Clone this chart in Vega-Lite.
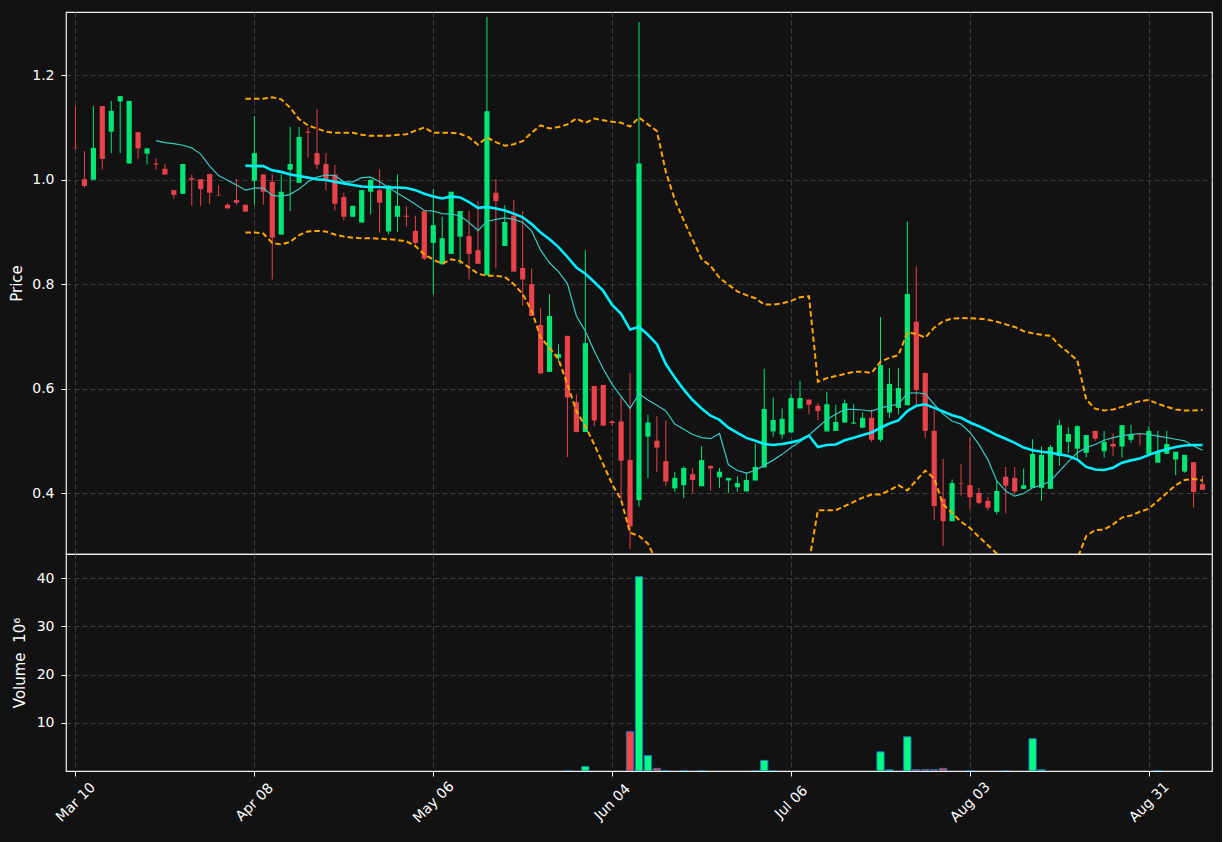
{
  "$schema": "https://vega.github.io/schema/vega-lite/v6.json",
  "background": "#121212",
  "padding": {"left": 9, "top": 11, "right": 9, "bottom": 17},
  "spacing": 0,
  "bounds": "flush",
  "config": {
    "view": {"stroke": "#f0f0f0", "strokeWidth": 1.2, "fill": "#121212"},
    "axis": {
      "labelColor": "#ffffff", "labelFont": "DejaVu Sans", "labelFontSize": 14,
      "titleColor": "#ffffff", "titleFont": "DejaVu Sans", "titleFontSize": 15, "titleFontWeight": "normal",
      "tickColor": "#ffffff", "tickSize": 5, "domain": false,
      "gridColor": "#3e3e3e", "gridDash": [5, 3], "gridWidth": 1
    }
  },
  "datasets": {
    "d": [
      {"i":0,"o":1.061,"h":1.141,"l":1.060,"c":1.060},
      {"i":1,"o":1.001,"h":1.055,"l":0.985,"c":0.988},
      {"i":2,"o":1.000,"h":1.141,"l":1.000,"c":1.061},
      {"i":3,"o":1.141,"h":1.141,"l":1.020,"c":1.040},
      {"i":4,"o":1.092,"h":1.151,"l":1.051,"c":1.132},
      {"i":5,"o":1.150,"h":1.160,"l":1.051,"c":1.160},
      {"i":6,"o":1.031,"h":1.151,"l":1.031,"c":1.151},
      {"i":7,"o":1.091,"h":1.091,"l":1.040,"c":1.060},
      {"i":8,"o":1.050,"h":1.060,"l":1.029,"c":1.060},
      {"i":9,"o":1.031,"h":1.041,"l":1.020,"c":1.029,"m1":1.075},
      {"i":10,"o":1.021,"h":1.030,"l":1.010,"c":1.010,"m1":1.071},
      {"i":11,"o":0.980,"h":0.980,"l":0.964,"c":0.971,"m1":1.069},
      {"i":12,"o":0.973,"h":1.030,"l":0.973,"c":1.030,"m1":1.066},
      {"i":13,"o":1.003,"h":1.010,"l":0.950,"c":1.000,"m1":1.061},
      {"i":14,"o":1.001,"h":1.001,"l":0.950,"c":0.982,"m1":1.049},
      {"i":15,"o":1.011,"h":1.011,"l":0.954,"c":0.975,"m1":1.026},
      {"i":16,"o":0.971,"h":0.989,"l":0.969,"c":0.970,"m1":1.008},
      {"i":17,"o":0.952,"h":0.955,"l":0.945,"c":0.945,"m1":0.999},
      {"i":18,"o":0.961,"h":1.001,"l":0.952,"c":0.956,"m1":0.990},
      {"i":19,"o":0.952,"h":0.952,"l":0.939,"c":0.939,"m1":0.980,"m2":1.027,"bu":1.155,"bl":0.899},
      {"i":20,"o":0.998,"h":1.122,"l":0.952,"c":1.051,"m1":0.984,"m2":1.026,"bu":1.155,"bl":0.899},
      {"i":21,"o":1.010,"h":1.010,"l":0.952,"c":0.977,"m1":0.984,"m2":1.026,"bu":1.155,"bl":0.897},
      {"i":22,"o":0.996,"h":1.010,"l":0.809,"c":0.889,"m1":0.970,"m2":1.018,"bu":1.158,"bl":0.879},
      {"i":23,"o":0.895,"h":1.010,"l":0.895,"c":0.977,"m1":0.968,"m2":1.015,"bu":1.154,"bl":0.876},
      {"i":24,"o":1.019,"h":1.101,"l":0.940,"c":1.030,"m1":0.972,"m2":1.010,"bu":1.138,"bl":0.881},
      {"i":25,"o":0.994,"h":1.101,"l":0.994,"c":1.082,"m1":0.982,"m2":1.007,"bu":1.116,"bl":0.894},
      {"i":26,"o":1.092,"h":1.101,"l":1.042,"c":1.090,"m1":0.996,"m2":1.004,"bu":1.104,"bl":0.901},
      {"i":27,"o":1.051,"h":1.135,"l":1.020,"c":1.029,"m1":1.005,"m2":1.001,"bu":1.098,"bl":0.902},
      {"i":28,"o":1.030,"h":1.051,"l":0.980,"c":0.999,"m1":1.009,"m2":0.9995,"bu":1.092,"bl":0.901},
      {"i":29,"o":1.010,"h":1.028,"l":0.941,"c":0.954,"m1":1.008,"m2":0.996,"bu":1.090,"bl":0.895},
      {"i":30,"o":0.967,"h":0.975,"l":0.922,"c":0.929,"m1":0.996,"m2":0.993,"bu":1.090,"bl":0.891},
      {"i":31,"o":0.929,"h":0.950,"l":0.929,"c":0.950,"m1":0.996,"m2":0.990,"bu":1.090,"bl":0.889},
      {"i":32,"o":0.918,"h":0.980,"l":0.918,"c":0.980,"m1":1.004,"m2":0.987,"bu":1.086,"bl":0.888},
      {"i":33,"o":0.977,"h":1.000,"l":0.934,"c":1.000,"m1":1.005,"m2":0.986,"bu":1.084,"bl":0.888},
      {"i":34,"o":0.980,"h":1.020,"l":0.899,"c":0.956,"m1":0.996,"m2":0.986,"bu":1.084,"bl":0.887},
      {"i":35,"o":0.901,"h":0.989,"l":0.895,"c":0.989,"m1":0.985,"m2":0.985,"bu":1.084,"bl":0.886},
      {"i":36,"o":0.929,"h":1.010,"l":0.900,"c":0.950,"m1":0.974,"m2":0.985,"bu":1.086,"bl":0.8845},
      {"i":37,"o":0.931,"h":0.949,"l":0.910,"c":0.929,"m1":0.964,"m2":0.984,"bu":1.087,"bl":0.882},
      {"i":38,"o":0.902,"h":0.931,"l":0.876,"c":0.879,"m1":0.953,"m2":0.980,"bu":1.094,"bl":0.873},
      {"i":39,"o":0.940,"h":0.940,"l":0.846,"c":0.849,"m1":0.941,"m2":0.973,"bu":1.100,"bl":0.857},
      {"i":40,"o":0.879,"h":0.982,"l":0.780,"c":0.913,"m1":0.940,"m2":0.968,"bu":1.090,"bl":0.847},
      {"i":41,"o":0.838,"h":0.929,"l":0.838,"c":0.888,"m1":0.935,"m2":0.964,"bu":1.090,"bl":0.839},
      {"i":42,"o":0.858,"h":0.977,"l":0.858,"c":0.977,"m1":0.934,"m2":0.968,"bu":1.090,"bl":0.8475},
      {"i":43,"o":0.891,"h":0.940,"l":0.838,"c":0.940,"m1":0.931,"m2":0.966,"bu":1.088,"bl":0.844},
      {"i":44,"o":0.892,"h":0.940,"l":0.809,"c":0.858,"m1":0.918,"m2":0.957,"bu":1.081,"bl":0.832},
      {"i":45,"o":0.865,"h":0.959,"l":0.839,"c":0.839,"m1":0.903,"m2":0.946,"bu":1.067,"bl":0.820},
      {"i":46,"o":0.817,"h":1.312,"l":0.817,"c":1.131,"m1":0.920,"m2":0.948,"bu":1.081,"bl":0.816},
      {"i":47,"o":0.975,"h":1.001,"l":0.830,"c":0.959,"m1":0.924,"m2":0.945,"bu":1.072,"bl":0.816},
      {"i":48,"o":0.873,"h":0.951,"l":0.873,"c":0.919,"m1":0.927,"m2":0.941,"bu":1.065,"bl":0.814},
      {"i":49,"o":0.931,"h":0.961,"l":0.824,"c":0.824,"m1":0.924,"m2":0.935,"bu":1.068,"bl":0.800},
      {"i":50,"o":0.831,"h":0.940,"l":0.759,"c":0.809,"m1":0.918,"m2":0.928,"bu":1.074,"bl":0.781},
      {"i":51,"o":0.800,"h":0.830,"l":0.739,"c":0.739,"m1":0.902,"m2":0.915,"bu":1.090,"bl":0.749},
      {"i":52,"o":0.722,"h":0.754,"l":0.628,"c":0.629,"m1":0.865,"m2":0.899,"bu":1.104,"bl":0.698},
      {"i":53,"o":0.632,"h":0.781,"l":0.632,"c":0.739,"m1":0.841,"m2":0.886,"bu":1.098,"bl":0.678},
      {"i":54,"o":0.659,"h":0.685,"l":0.652,"c":0.666,"m1":0.824,"m2":0.871,"bu":1.101,"bl":0.656},
      {"i":55,"o":0.701,"h":0.701,"l":0.469,"c":0.583,"m1":0.801,"m2":0.852,"bu":1.106,"bl":0.608,"v":0.08},
      {"i":56,"o":0.574,"h":0.589,"l":0.516,"c":0.517,"m1":0.739,"m2":0.832,"bu":1.117,"bl":0.557},
      {"i":57,"o":0.517,"h":0.865,"l":0.517,"c":0.687,"m1":0.710,"m2":0.820,"bu":1.109,"bl":0.528,"v":0.96},
      {"i":58,"o":0.605,"h":0.605,"l":0.528,"c":0.539,"m1":0.672,"m2":0.804,"bu":1.117,"bl":0.493},
      {"i":59,"o":0.607,"h":0.607,"l":0.529,"c":0.529,"m1":0.638,"m2":0.787,"bu":1.114,"bl":0.455},
      {"i":60,"o":0.537,"h":0.539,"l":0.528,"c":0.534,"m1":0.608,"m2":0.760,"bu":1.111,"bl":0.417},
      {"i":61,"o":0.537,"h":0.585,"l":0.387,"c":0.462,"m1":0.585,"m2":0.743,"bu":1.109,"bl":0.387},
      {"i":62,"o":0.463,"h":0.630,"l":0.293,"c":0.336,"m1":0.562,"m2":0.713,"bu":1.102,"bl":0.324,"v":8.15},
      {"i":63,"o":0.386,"h":1.302,"l":0.374,"c":1.031,"m1":0.590,"m2":0.718,"bu":1.119,"bl":0.318,"v":40.3},
      {"i":64,"o":0.508,"h":0.550,"l":0.428,"c":0.535,"m1":0.578,"m2":0.703,"bu":1.106,"bl":0.303,"v":3.2},
      {"i":65,"o":0.500,"h":0.547,"l":0.440,"c":0.487,"m1":0.568,"m2":0.685,"bu":1.093,"bl":0.268,"v":0.55},
      {"i":66,"o":0.461,"h":0.539,"l":0.413,"c":0.422,"m1":0.557,"m2":0.647,"bu":1.015,"bl":0.272,"v":0.08},
      {"i":67,"o":0.409,"h":0.440,"l":0.402,"c":0.429,"m1":0.532,"m2":0.621,"bu":0.962,"bl":0.270},
      {"i":68,"o":0.415,"h":0.451,"l":0.390,"c":0.448,"m1":0.522,"m2":0.598,"bu":0.922,"bl":0.265,"v":0.08},
      {"i":69,"o":0.436,"h":0.448,"l":0.400,"c":0.425,"m1":0.512,"m2":0.578,"bu":0.885,"bl":0.265},
      {"i":70,"o":0.413,"h":0.490,"l":0.413,"c":0.463,"m1":0.506,"m2":0.562,"bu":0.848,"bl":0.260,"v":0.08},
      {"i":71,"o":0.452,"h":0.452,"l":0.405,"c":0.447,"m1":0.504,"m2":0.548,"bu":0.835,"bl":0.255},
      {"i":72,"o":0.430,"h":0.448,"l":0.410,"c":0.441,"m1":0.514,"m2":0.540,"bu":0.812,"bl":0.255},
      {"i":73,"o":0.424,"h":0.429,"l":0.400,"c":0.429,"m1":0.454,"m2":0.525,"bu":0.799,"bl":0.250},
      {"i":74,"o":0.411,"h":0.432,"l":0.402,"c":0.419,"m1":0.443,"m2":0.515,"bu":0.786,"bl":0.245},
      {"i":75,"o":0.403,"h":0.438,"l":0.403,"c":0.425,"m1":0.438,"m2":0.5055,"bu":0.779,"bl":0.232},
      {"i":76,"o":0.424,"h":0.495,"l":0.424,"c":0.450,"m1":0.443,"m2":0.500,"bu":0.773,"bl":0.228,"v":0.08},
      {"i":77,"o":0.449,"h":0.638,"l":0.449,"c":0.561,"m1":0.453,"m2":0.494,"bu":0.761,"bl":0.226,"v":2.2},
      {"i":78,"o":0.518,"h":0.583,"l":0.508,"c":0.540,"m1":0.463,"m2":0.492,"bu":0.761,"bl":0.223,"v":0.08},
      {"i":79,"o":0.512,"h":0.562,"l":0.504,"c":0.542,"m1":0.474,"m2":0.494,"bu":0.763,"bl":0.223},
      {"i":80,"o":0.516,"h":0.590,"l":0.516,"c":0.582,"m1":0.487,"m2":0.497,"bu":0.768,"bl":0.225},
      {"i":81,"o":0.562,"h":0.615,"l":0.562,"c":0.582,"m1":0.498,"m2":0.501,"bu":0.775,"bl":0.235},
      {"i":82,"o":0.579,"h":0.579,"l":0.551,"c":0.569,"m1":0.511,"m2":0.510,"bu":0.777,"bl":0.267},
      {"i":83,"o":0.567,"h":0.572,"l":0.539,"c":0.557,"m1":0.526,"m2":0.488,"bu":0.613,"bl":0.367},
      {"i":84,"o":0.518,"h":0.594,"l":0.518,"c":0.570,"m1":0.541,"m2":0.492,"bu":0.620,"bl":0.367},
      {"i":85,"o":0.519,"h":0.569,"l":0.519,"c":0.536,"m1":0.551,"m2":0.493,"bu":0.624,"bl":0.367},
      {"i":86,"o":0.535,"h":0.579,"l":0.535,"c":0.572,"m1":0.560,"m2":0.501,"bu":0.628,"bl":0.375},
      {"i":87,"o":0.533,"h":0.570,"l":0.533,"c":0.535,"m1":0.560,"m2":0.506,"bu":0.632,"bl":0.383},
      {"i":88,"o":0.525,"h":0.554,"l":0.525,"c":0.544,"m1":0.559,"m2":0.511,"bu":0.632,"bl":0.391},
      {"i":89,"o":0.544,"h":0.560,"l":0.498,"c":0.502,"m1":0.557,"m2":0.516,"bu":0.630,"bl":0.397},
      {"i":90,"o":0.502,"h":0.737,"l":0.498,"c":0.645,"m1":0.563,"m2":0.525,"bu":0.6515,"bl":0.397,"v":3.97},
      {"i":91,"o":0.554,"h":0.639,"l":0.544,"c":0.609,"m1":0.567,"m2":0.533,"bu":0.659,"bl":0.405,"v":0.27},
      {"i":92,"o":0.563,"h":0.639,"l":0.551,"c":0.601,"m1":0.570,"m2":0.539,"bu":0.664,"bl":0.415},
      {"i":93,"o":0.568,"h":0.920,"l":0.568,"c":0.781,"m1":0.591,"m2":0.557,"bu":0.707,"bl":0.405,"v":7.1},
      {"i":94,"o":0.728,"h":0.834,"l":0.570,"c":0.597,"m1":0.592,"m2":0.567,"bu":0.705,"bl":0.424,"v":0.27},
      {"i":95,"o":0.630,"h":0.630,"l":0.505,"c":0.519,"m1":0.590,"m2":0.570,"bu":0.6975,"bl":0.443,"v":0.27},
      {"i":96,"o":0.519,"h":0.559,"l":0.348,"c":0.375,"m1":0.570,"m2":0.563,"bu":0.7166,"bl":0.428,"v":0.27},
      {"i":97,"o":0.389,"h":0.465,"l":0.299,"c":0.346,"m1":0.551,"m2":0.556,"bu":0.729,"bl":0.378,"v":0.55},
      {"i":98,"o":0.346,"h":0.426,"l":0.346,"c":0.419,"m1":0.538,"m2":0.549,"bu":0.734,"bl":0.362},
      {"i":99,"o":0.419,"h":0.455,"l":0.395,"c":0.418,"m1":0.532,"m2":0.544,"bu":0.735,"bl":0.345},
      {"i":100,"o":0.415,"h":0.506,"l":0.369,"c":0.392,"m1":0.516,"m2":0.535,"bu":0.7345,"bl":0.333,"v":0.08},
      {"i":101,"o":0.400,"h":0.410,"l":0.378,"c":0.381,"m1":0.493,"m2":0.528,"bu":0.734,"bl":0.316},
      {"i":102,"o":0.385,"h":0.392,"l":0.367,"c":0.372,"m1":0.464,"m2":0.520,"bu":0.732,"bl":0.300},
      {"i":103,"o":0.364,"h":0.423,"l":0.359,"c":0.404,"m1":0.423,"m2":0.511,"bu":0.728,"bl":0.284},
      {"i":104,"o":0.431,"h":0.450,"l":0.361,"c":0.414,"m1":0.404,"m2":0.504,"bu":0.723,"bl":0.276,"v":0.08},
      {"i":105,"o":0.429,"h":0.450,"l":0.397,"c":0.403,"m1":0.394,"m2":0.496,"bu":0.718,"bl":0.270},
      {"i":106,"o":0.408,"h":0.447,"l":0.408,"c":0.415,"m1":0.399,"m2":0.487,"bu":0.710,"bl":0.262},
      {"i":107,"o":0.410,"h":0.503,"l":0.410,"c":0.475,"m1":0.410,"m2":0.482,"bu":0.706,"bl":0.258,"v":6.7},
      {"i":108,"o":0.410,"h":0.489,"l":0.385,"c":0.473,"m1":0.415,"m2":0.479,"bu":0.703,"bl":0.255,"v":0.27},
      {"i":109,"o":0.408,"h":0.492,"l":0.408,"c":0.488,"m1":0.423,"m2":0.477,"bu":0.701,"bl":0.254},
      {"i":110,"o":0.471,"h":0.540,"l":0.452,"c":0.530,"m1":0.442,"m2":0.474,"bu":0.683,"bl":0.262},
      {"i":111,"o":0.498,"h":0.526,"l":0.477,"c":0.513,"m1":0.460,"m2":0.471,"bu":0.669,"bl":0.270},
      {"i":112,"o":0.485,"h":0.530,"l":0.464,"c":0.528,"m1":0.477,"m2":0.464,"bu":0.654,"bl":0.274},
      {"i":113,"o":0.477,"h":0.511,"l":0.468,"c":0.511,"m1":0.487,"m2":0.450,"bu":0.579,"bl":0.318},
      {"i":114,"o":0.519,"h":0.519,"l":0.500,"c":0.504,"m1":0.493,"m2":0.445,"bu":0.5615,"bl":0.329},
      {"i":115,"o":0.480,"h":0.519,"l":0.468,"c":0.498,"m1":0.501,"m2":0.444,"bu":0.558,"bl":0.330},
      {"i":116,"o":0.494,"h":0.514,"l":0.471,"c":0.489,"m1":0.506,"m2":0.4485,"bu":0.560,"bl":0.340},
      {"i":117,"o":0.489,"h":0.530,"l":0.468,"c":0.530,"m1":0.510,"m2":0.458,"bu":0.565,"bl":0.353},
      {"i":118,"o":0.502,"h":0.530,"l":0.496,"c":0.513,"m1":0.512,"m2":0.4625,"bu":0.571,"bl":0.357},
      {"i":119,"o":0.512,"h":0.512,"l":0.491,"c":0.511,"m1":0.514,"m2":0.466,"bu":0.576,"bl":0.364},
      {"i":120,"o":0.475,"h":0.528,"l":0.475,"c":0.519,"m1":0.512,"m2":0.473,"bu":0.578,"bl":0.370},
      {"i":121,"o":0.458,"h":0.519,"l":0.458,"c":0.479,"m1":0.509,"m2":0.479,"bu":0.571,"bl":0.385,"v":0.08},
      {"i":122,"o":0.475,"h":0.519,"l":0.475,"c":0.494,"m1":0.506,"m2":0.484,"bu":0.565,"bl":0.400},
      {"i":123,"o":0.464,"h":0.479,"l":0.434,"c":0.479,"m1":0.503,"m2":0.488,"bu":0.560,"bl":0.415},
      {"i":124,"o":0.441,"h":0.473,"l":0.439,"c":0.473,"m1":0.500,"m2":0.491,"bu":0.558,"bl":0.425},
      {"i":125,"o":0.459,"h":0.459,"l":0.372,"c":0.402,"m1":0.490,"m2":0.492,"bu":0.558,"bl":0.427},
      {"i":126,"o":0.417,"h":0.433,"l":0.406,"c":0.406,"m1":0.482,"m2":0.492,"bu":0.559,"bl":0.424}
    ]
  },
  "vconcat": [
    {
      "width": 1146,
      "height": 542,
      "data": {"name": "d"},
      "encoding": {
        "x": {
          "field": "i", "type": "quantitative",
          "scale": {"domain": [-0.5, 126.5], "nice": false, "zero": false},
          "axis": {"values": [0, 20, 40, 60, 80, 100, 120], "labels": false, "ticks": false, "domain": false, "grid": true, "title": null}
        }
      },
      "layer": [
        {
          "mark": {"type": "rule", "strokeWidth": 1, "clip": true},
          "encoding": {
            "y": {"field": "l", "type": "quantitative",
              "scale": {"domain": [0.2832, 1.3212], "nice": false, "zero": false},
              "axis": {"title": "Price", "values": [0.4, 0.6, 0.8, 1.0, 1.2], "format": ".1f", "labelPadding": 7, "titlePadding": 7, "grid": true}},
            "y2": {"field": "h"},
            "color": {"condition": {"test": "datum.c >= datum.o", "value": "#00e676"}, "value": "#e8424a"}
          }
        },
        {
          "mark": {"type": "bar", "size": 5.2, "clip": true},
          "encoding": {
            "y": {"field": "o", "type": "quantitative"},
            "y2": {"field": "c"},
            "color": {"condition": {"test": "datum.c >= datum.o", "value": "#00e676"}, "value": "#e8424a"}
          }
        },
        {
          "mark": {"type": "line", "color": "#3cc8c0", "strokeWidth": 1.2, "clip": true},
          "encoding": {"y": {"field": "m1", "type": "quantitative"}}
        },
        {
          "mark": {"type": "line", "color": "#00f0ff", "strokeWidth": 2.6, "clip": true},
          "encoding": {"y": {"field": "m2", "type": "quantitative"}}
        },
        {
          "mark": {"type": "line", "color": "#ffa500", "strokeWidth": 2, "strokeDash": [5.5, 3], "clip": true},
          "encoding": {"y": {"field": "bu", "type": "quantitative"}}
        },
        {
          "mark": {"type": "line", "color": "#ffa500", "strokeWidth": 2, "strokeDash": [5.5, 3], "clip": true},
          "encoding": {"y": {"field": "bl", "type": "quantitative"}}
        }
      ]
    },
    {
      "width": 1146,
      "height": 217,
      "data": {"name": "d"},
      "mark": {"type": "bar", "size": 7.3, "stroke": "#1f77b4", "strokeWidth": 1, "clip": true},
      "encoding": {
        "x": {
          "field": "i", "type": "quantitative",
          "scale": {"domain": [-0.5, 126.5], "nice": false, "zero": false},
          "axis": {
            "values": [0, 20, 40, 60, 80, 100, 120],
            "labelExpr": "['Mar 10','Apr 08','May 06','Jun 04','Jul 06','Aug 03','Aug 31'][round(datum.value / 20)]",
            "labelAngle": -45, "labelAlign": "center", "labelBaseline": "middle",
            "labelPadding": 26, "labelOverlap": false, "labelFlush": false, "labelBound": false,
            "grid": true, "title": null
          }
        },
        "y": {
          "field": "v", "type": "quantitative",
          "scale": {"domain": [0, 45], "nice": false},
          "axis": {"title": "Volume\u00a0\u00a010⁶", "values": [10, 20, 30, 40], "labelPadding": 7, "titlePadding": 9, "grid": true}
        },
        "color": {"condition": {"test": "datum.c >= datum.o", "value": "#00ff80"}, "value": "#ff4444"}
      }
    }
  ]
}
